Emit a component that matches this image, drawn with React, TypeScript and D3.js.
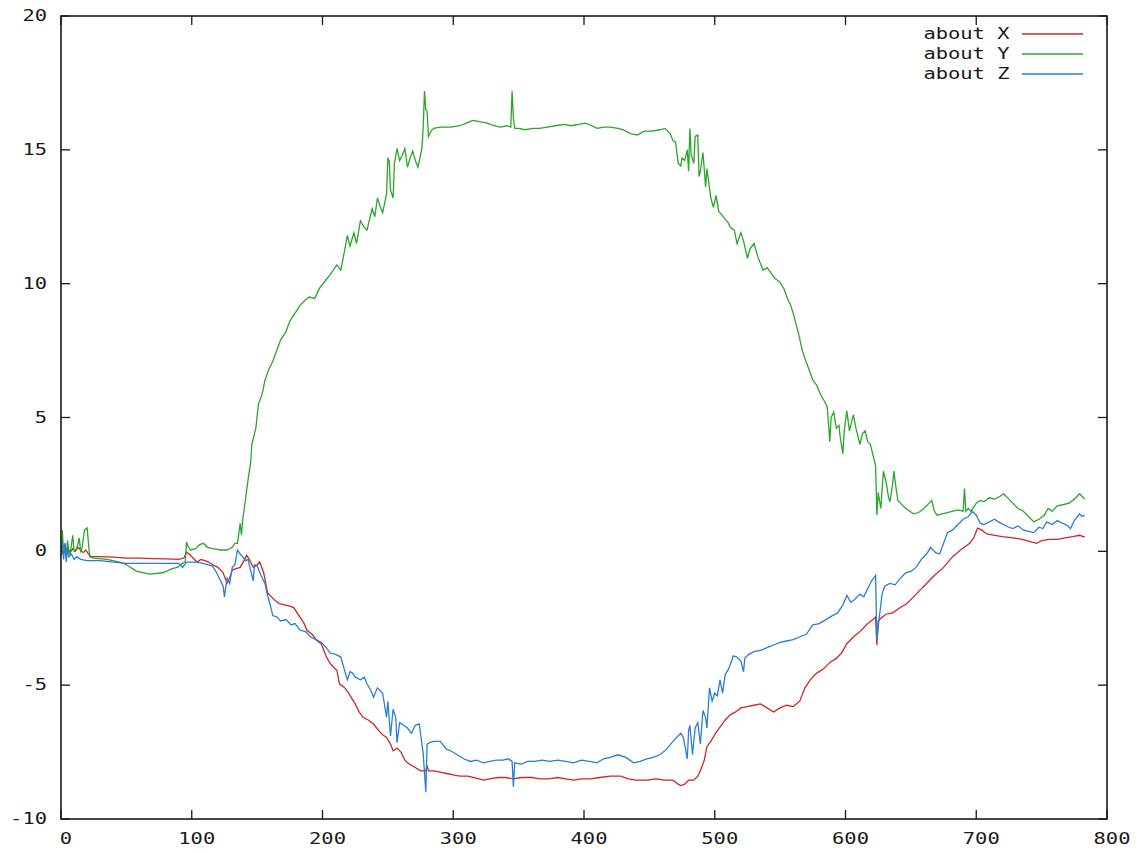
import React from 'react';
import * as d3 from 'd3';

type Pt = [number, number];

const xTicks = [0, 100, 200, 300, 400, 500, 600, 700, 800];
const yTicks = [-10, -5, 0, 5, 10, 15, 20];
const seriesNames = ['about X', 'about Y', 'about Z'];
const seriesColors = ['#c8282a', '#2aa62a', '#2a7ed2'];

const aboutX: Pt[] = [
  [0, 0.1], [1, -0.1], [2, 0.2], [3, 0.0], [5, 0.15], [7, -0.05], [9, 0.1], [11, 0.0], [13, 0.15], [15, 0.05], [17, -0.05], [19, 0.05], [21, -0.1], [23, -0.2],
  [30, -0.2], [40, -0.22], [50, -0.25], [60, -0.25], [70, -0.27], [80, -0.28], [90, -0.3], [94, -0.25], [96, -0.03], [98, -0.1], [101, -0.25], [104, -0.4],
  [107, -0.3], [110, -0.35], [113, -0.4], [116, -0.5], [120, -0.6], [124, -0.8], [127, -1.2], [129, -1.0], [131, -0.7], [134, -0.65], [137, -0.6], [140, -0.35],
  [142, -0.15], [144, -0.3], [147, -0.6], [150, -0.5], [152, -0.4], [155, -0.8], [158, -1.55], [161, -1.7], [164, -1.85], [167, -1.95], [171, -2.0], [175, -2.05],
  [178, -2.1], [182, -2.4], [186, -2.7], [188, -2.95], [192, -3.1], [196, -3.35], [199, -3.45], [203, -3.95], [206, -4.2], [211, -4.45], [213, -4.95], [217, -5.1],
  [220, -5.3], [225, -5.7], [228, -6.0], [231, -6.2], [235, -6.3], [239, -6.45], [243, -6.7], [246, -6.85], [249, -6.95], [252, -7.2], [254, -7.45], [257, -7.35],
  [260, -7.5], [263, -7.8], [265, -7.9], [270, -8.05], [275, -8.2], [279, -8.2], [280, -8.0], [281, -8.2], [285, -8.2], [290, -8.25], [295, -8.3], [300, -8.35],
  [305, -8.4], [311, -8.4], [316, -8.45], [323, -8.55], [328, -8.5], [334, -8.45], [340, -8.45], [346, -8.5], [352, -8.45], [360, -8.45], [366, -8.5], [373, -8.5],
  [380, -8.45], [386, -8.5], [392, -8.55], [398, -8.5], [405, -8.5], [412, -8.45], [420, -8.4], [428, -8.4], [434, -8.5], [440, -8.55], [448, -8.55], [455, -8.5],
  [462, -8.55], [468, -8.55], [472, -8.7], [474, -8.75], [477, -8.7], [480, -8.55], [484, -8.55], [487, -8.4], [489, -8.2], [492, -7.8], [494, -7.3], [497, -7.1],
  [500, -6.85], [502, -6.7], [505, -6.5], [508, -6.3], [512, -6.1], [516, -6.0], [520, -5.85], [525, -5.8], [530, -5.75], [535, -5.7], [540, -5.85], [545, -6.0],
  [550, -5.85], [555, -5.75], [560, -5.8], [565, -5.6], [569, -5.1], [573, -4.8], [578, -4.55], [583, -4.4], [588, -4.15], [593, -4.0], [597, -3.8], [601, -3.45],
  [606, -3.2], [611, -3.0], [617, -2.7], [621, -2.55], [623, -2.45], [624, -3.5], [625, -2.6], [627, -2.5], [631, -2.35], [636, -2.3], [642, -2.1], [647, -1.95],
  [652, -1.7], [657, -1.45], [662, -1.2], [668, -0.9], [675, -0.6], [682, -0.2], [688, 0.05], [695, 0.3], [698, 0.5], [701, 0.87], [704, 0.8], [708, 0.65],
  [714, 0.6], [720, 0.55], [728, 0.5], [735, 0.45], [742, 0.35], [746, 0.3], [750, 0.4], [756, 0.45], [762, 0.45], [768, 0.5], [774, 0.55], [779, 0.6], [783, 0.53],
];

const aboutY: Pt[] = [
  [0, -0.2], [1, 0.8], [2, -0.1], [3, 0.3], [4, -0.2], [5, 0.4], [6, 0.0], [7, -0.1], [9, 0.6], [10, 0.0], [12, 0.1], [13, 0.3], [14, 0.5], [15, 0.0], [16, 0.1],
  [18, 0.8], [20, 0.87], [21, 0.3], [22, -0.2], [25, -0.25], [35, -0.3], [45, -0.4], [50, -0.5], [58, -0.75], [68, -0.85], [78, -0.8], [85, -0.65], [89, -0.6],
  [93, -0.45], [95, -0.4], [96, 0.35], [97, 0.2], [99, 0.05], [103, 0.1], [106, 0.25], [109, 0.3], [112, 0.15], [116, 0.1], [122, 0.05], [127, 0.05], [131, 0.15],
  [133, 0.3], [135, 0.3], [137, 1.05], [138, 0.6], [139, 1.2], [141, 1.9], [143, 2.65], [145, 3.3], [146, 4.0], [149, 4.6], [151, 5.5], [154, 5.9], [156, 6.4],
  [159, 6.8], [162, 7.1], [165, 7.5], [168, 7.9], [172, 8.2], [175, 8.6], [179, 8.9], [183, 9.2], [187, 9.4], [190, 9.5], [194, 9.45], [198, 9.85], [202, 10.1],
  [206, 10.35], [211, 10.7], [214, 10.5], [216, 11.0], [219, 11.8], [221, 11.4], [224, 11.9], [226, 11.5], [229, 12.35], [232, 12.1], [234, 12.0], [238, 12.8],
  [240, 12.5], [242, 13.2], [244, 12.9], [246, 12.65], [249, 13.35], [250, 14.7], [251, 14.6], [252, 13.5], [254, 13.2], [255, 14.5], [257, 15.05], [259, 14.6],
  [261, 14.8], [263, 15.05], [265, 14.35], [267, 14.7], [269, 14.95], [271, 14.6], [273, 14.35], [276, 15.05], [277, 15.8], [278, 17.2], [279, 16.5], [280, 16.45],
  [281, 15.5], [283, 15.7], [285, 15.8], [290, 15.85], [298, 15.85], [305, 15.9], [310, 16.0], [315, 16.1], [320, 16.05], [326, 16.0], [331, 15.9], [336, 15.85],
  [341, 15.9], [344, 15.85], [345, 17.2], [346, 16.2], [347, 15.8], [350, 15.8], [355, 15.75], [361, 15.8], [366, 15.8], [372, 15.85], [378, 15.9], [385, 15.95],
  [390, 15.9], [396, 15.95], [401, 16.0], [406, 15.9], [410, 15.8], [415, 15.85], [420, 15.85], [426, 15.8], [430, 15.75], [436, 15.6], [441, 15.55], [446, 15.7],
  [452, 15.7], [458, 15.75], [462, 15.8], [466, 15.6], [468, 15.35], [470, 15.3], [472, 14.5], [474, 14.4], [475, 14.7], [477, 14.6], [479, 15.0], [480, 14.2],
  [481, 15.8], [482, 14.8], [484, 14.5], [485, 15.5], [487, 15.55], [488, 14.0], [489, 14.2], [491, 14.9], [493, 13.6], [494, 14.3], [497, 13.2], [499, 12.85],
  [501, 13.3], [503, 12.7], [505, 12.6], [508, 12.4], [510, 12.3], [512, 12.1], [515, 12.0], [517, 11.5], [520, 11.9], [522, 11.6], [525, 10.95], [527, 11.3],
  [530, 11.5], [533, 11.0], [537, 10.5], [540, 10.6], [543, 10.4], [546, 10.2], [550, 10.05], [553, 9.8], [556, 9.4], [558, 9.2], [560, 8.9], [564, 8.15],
  [567, 7.5], [569, 7.2], [572, 6.8], [575, 6.4], [578, 6.2], [581, 5.85], [584, 5.6], [586, 5.4], [588, 4.1], [589, 5.0], [591, 5.2], [593, 4.6], [595, 4.7],
  [596, 4.25], [598, 3.65], [599, 4.5], [601, 5.25], [603, 4.5], [605, 4.9], [606, 5.1], [608, 4.6], [611, 4.0], [613, 4.4], [615, 4.5], [617, 4.1], [619, 4.0],
  [621, 3.6], [623, 3.2], [624, 1.35], [625, 2.2], [627, 1.6], [629, 3.0], [631, 2.6], [633, 2.0], [634, 1.85], [636, 2.5], [637, 3.0], [638, 2.6], [640, 1.9],
  [642, 1.8], [646, 1.6], [652, 1.4], [656, 1.45], [660, 1.6], [664, 1.8], [666, 1.9], [668, 1.5], [670, 1.35], [674, 1.4], [678, 1.45], [682, 1.5], [686, 1.55],
  [690, 1.5], [691, 2.35], [692, 1.5], [694, 1.6], [696, 1.5], [700, 1.8], [703, 1.9], [706, 1.85], [710, 2.0], [714, 1.95], [718, 2.05], [721, 2.15], [725, 1.95],
  [728, 1.8], [732, 1.6], [736, 1.5], [740, 1.3], [744, 1.1], [748, 1.2], [752, 1.35], [755, 1.6], [758, 1.5], [762, 1.7], [767, 1.75], [771, 1.8], [775, 1.95],
  [779, 2.15], [781, 2.05], [783, 1.95],
];

const aboutZ: Pt[] = [
  [0, 0.0], [1, 0.4], [2, -0.3], [3, 0.3], [4, -0.4], [5, 0.1], [6, -0.2], [8, -0.1], [10, -0.3], [12, -0.2], [15, -0.3], [20, -0.35], [25, -0.35], [30, -0.35],
  [40, -0.4], [50, -0.45], [60, -0.45], [70, -0.45], [80, -0.45], [90, -0.45], [93, -0.6], [96, -0.4], [100, -0.4], [104, -0.4], [108, -0.45], [112, -0.5],
  [116, -0.55], [119, -0.8], [122, -1.1], [124, -1.3], [125, -1.7], [127, -1.0], [129, -1.2], [131, -0.6], [133, -0.5], [135, 0.05], [137, -0.1], [139, -0.2],
  [141, -0.35], [143, -0.3], [145, -0.7], [147, -1.1], [148, -0.5], [150, -0.55], [153, -0.9], [156, -1.2], [158, -1.65], [160, -2.0], [162, -2.4], [165, -2.45],
  [168, -2.6], [172, -2.55], [176, -2.75], [179, -2.7], [183, -2.95], [187, -3.0], [191, -3.2], [195, -3.3], [199, -3.4], [202, -3.55], [206, -3.8], [210, -3.85],
  [214, -3.95], [216, -4.3], [219, -4.8], [221, -4.5], [223, -4.55], [225, -4.7], [229, -4.8], [232, -4.7], [234, -4.95], [237, -5.2], [239, -5.45], [242, -5.1],
  [246, -5.3], [249, -6.2], [250, -5.6], [252, -6.9], [254, -5.9], [256, -6.2], [257, -7.15], [259, -6.4], [262, -6.5], [265, -6.6], [268, -6.8], [271, -6.5],
  [274, -6.45], [277, -7.55], [279, -9.0], [280, -7.2], [282, -7.15], [285, -7.1], [290, -7.1], [295, -7.4], [298, -7.45], [303, -7.6], [308, -7.75], [313, -7.85],
  [318, -7.8], [323, -7.9], [328, -7.85], [333, -7.8], [338, -7.8], [342, -7.75], [345, -7.85], [346, -8.8], [347, -7.9], [352, -7.95], [357, -7.85], [362, -7.85],
  [368, -7.8], [374, -7.85], [380, -7.8], [386, -7.85], [392, -7.9], [398, -7.8], [404, -7.85], [410, -7.9], [415, -7.75], [420, -7.7], [426, -7.6], [432, -7.7],
  [438, -7.9], [443, -7.85], [448, -7.75], [453, -7.7], [458, -7.6], [463, -7.4], [468, -7.1], [472, -6.9], [474, -6.8], [476, -6.95], [479, -7.75], [480, -6.7],
  [481, -6.5], [483, -7.6], [485, -6.6], [487, -6.4], [489, -7.2], [491, -5.95], [493, -6.2], [494, -6.6], [496, -5.1], [498, -5.6], [500, -5.3], [502, -5.4],
  [504, -4.8], [506, -5.3], [508, -4.6], [510, -4.45], [513, -4.1], [514, -3.9], [517, -3.95], [520, -4.1], [522, -4.5], [523, -4.0], [526, -3.85], [530, -3.75],
  [535, -3.7], [540, -3.6], [545, -3.5], [550, -3.4], [555, -3.35], [560, -3.3], [565, -3.2], [570, -3.1], [575, -2.75], [580, -2.7], [585, -2.55], [590, -2.4],
  [594, -2.3], [598, -2.0], [601, -1.65], [604, -1.9], [607, -1.8], [611, -1.6], [614, -1.7], [617, -1.4], [620, -1.1], [623, -0.9], [624, -3.3], [626, -2.4],
  [628, -1.6], [630, -1.3], [634, -1.2], [638, -1.25], [642, -1.0], [646, -0.8], [650, -0.75], [654, -0.6], [658, -0.3], [662, -0.1], [665, 0.15], [669, -0.05],
  [672, -0.1], [675, 0.3], [678, 0.7], [682, 0.8], [686, 1.0], [690, 1.2], [694, 1.3], [697, 1.5], [700, 1.35], [703, 1.05], [706, 1.0], [710, 1.1], [714, 1.2],
  [717, 1.1], [721, 1.0], [725, 0.9], [728, 0.85], [732, 0.95], [736, 0.8], [740, 0.75], [744, 0.7], [748, 0.9], [751, 0.85], [754, 1.1], [758, 1.0], [762, 1.15],
  [766, 1.05], [770, 0.95], [772, 0.85], [775, 1.15], [779, 1.4], [781, 1.3], [783, 1.35],
];

const FONT = '"DejaVu Sans Mono", monospace';
const CH = 12.3;

export default function App() {
  const W = 1144;
  const H = 853;
  const x = d3.scaleLinear().domain([0, 800]).range([61, 1107]);
  const y = d3.scaleLinear().domain([-10, 20]).range([819, 16]);
  const line = d3.line<Pt>().x((d) => x(d[0])).y((d) => y(d[1]));
  const series = [aboutX, aboutY, aboutZ];
  const [x0, x1] = x.range();
  const [yb, yt] = y.range();
  const tl = 9;
  const ink = '#1a1a1a';

  const label = (s: string, px: number, py: number, anchor: string, key: string) => (
    <text
      key={key}
      x={px}
      y={py}
      textAnchor={anchor}
      dominantBaseline="central"
      fontFamily={FONT}
      fontSize={15}
      fill={ink}
      textLength={s.length * CH}
      lengthAdjust="spacingAndGlyphs"
    >
      {s}
    </text>
  );

  return (
    <svg
      width={W}
      height={H}
      style={{ position: 'absolute', left: 0, top: 0, background: '#fff' }}
    >
      <rect x={0} y={0} width={W} height={H} fill="#fff" />
      {/* ticks */}
      <g stroke={ink} strokeWidth={1.3}>
        {xTicks.map((t) => (
          <g key={'xt' + t}>
            <line x1={x(t)} x2={x(t)} y1={yb} y2={yb - tl} />
            <line x1={x(t)} x2={x(t)} y1={yt} y2={yt + tl} />
          </g>
        ))}
        {yTicks.map((t) => (
          <g key={'yt' + t}>
            <line x1={x0} x2={x0 + tl} y1={y(t)} y2={y(t)} />
            <line x1={x1} x2={x1 - tl} y1={y(t)} y2={y(t)} />
          </g>
        ))}
      </g>
      {xTicks.map((t) => label(String(t), x(t) + 5, 839, 'middle', 'xl' + t))}
      {yTicks.map((t) => label(String(t), 47, y(t), 'end', 'yl' + t))}
      {/* data */}
      {series.map((s, i) => (
        <path
          key={'s' + i}
          d={line(s) || ''}
          fill="none"
          stroke={seriesColors[i]}
          strokeWidth={1.3}
          strokeLinejoin="miter"
        />
      ))}
      {/* legend */}
      {seriesNames.map((n, i) => (
        <g key={'lg' + i}>
          {label(n, 1009.5, 34 + i * 20, 'end', 'lt' + i)}
          <line x1={1022} x2={1083} y1={34 + i * 20} y2={34 + i * 20} stroke={seriesColors[i]} strokeWidth={1.3} />
        </g>
      ))}
      {/* border */}
      <rect x={x0} y={yt} width={x1 - x0} height={yb - yt} fill="none" stroke={ink} strokeWidth={1.6} />
    </svg>
  );
}
